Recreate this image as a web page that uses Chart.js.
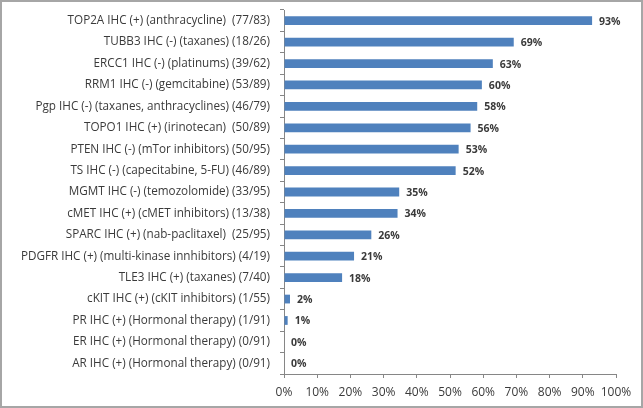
<!DOCTYPE html>
<html>
<head>
<meta charset="utf-8">
<script src="https://cdn.jsdelivr.net/npm/chart.js@4/dist/chart.umd.min.js"></script>
<style>
  html, body { margin: 0; padding: 0; background: #ffffff; }
  #wrap { width: 643px; height: 408px; position: relative; }
</style>
</head>
<body>
<div id="wrap"><canvas id="c" width="643" height="408"></canvas></div>
<script>
// ---- data ----
const categories = [
  "TOP2A IHC (+) (anthracycline)  (77/83)",
  "TUBB3 IHC (-) (taxanes) (18/26)",
  "ERCC1 IHC (-) (platinums) (39/62)",
  "RRM1 IHC (-) (gemcitabine) (53/89)",
  "Pgp IHC (-) (taxanes, anthracyclines) (46/79)",
  "TOPO1 IHC (+) (irinotecan)  (50/89)",
  "PTEN IHC (-) (mTor inhibitors) (50/95)",
  "TS IHC (-) (capecitabine, 5-FU) (46/89)",
  "MGMT IHC (-) (temozolomide) (33/95)",
  "cMET IHC (+) (cMET inhibitors) (13/38)",
  "SPARC IHC (+) (nab-paclitaxel)  (25/95)",
  "PDGFR IHC (+) (multi-kinase innhibitors) (4/19)",
  "TLE3 IHC (+) (taxanes) (7/40)",
  "cKIT IHC (+) (cKIT inhibitors) (1/55)",
  "PR IHC (+) (Hormonal therapy) (1/91)",
  "ER IHC (+) (Hormonal therapy) (0/91)",
  "AR IHC (+) (Hormonal therapy) (0/91)"
];
const percentValues = [92.8, 69.2, 62.9, 59.6, 58.2, 56.2, 52.6, 51.7, 34.7, 34.2, 26.3, 21.1, 17.5, 1.8, 1.1, 0, 0];
const valueLabels = ["93%", "69%", "63%", "60%", "58%", "56%", "53%", "52%", "35%", "34%", "26%", "21%", "18%", "2%", "1%", "0%", "0%"];
const xTickValues = [0, 10, 20, 30, 40, 50, 60, 70, 80, 90, 100];

// ---- style ----
const FONT = "'Open Sans', 'DejaVu Sans', sans-serif";
const TEXT = "#3a3a3a";
const AXIS = "#868686";
const BAR = "#4f81bd";

const valueLabelPlugin = {
  id: 'valueLabels',
  afterDatasetsDraw(chart) {
    const ctx = chart.ctx;
    const meta = chart.getDatasetMeta(0);
    ctx.save();
    ctx.font = "bold 10.5px " + FONT;
    ctx.fillStyle = TEXT;
    ctx.textAlign = 'left';
    ctx.textBaseline = 'middle';
    meta.data.forEach((bar, i) => {
      ctx.fillText(valueLabels[i], bar.x + 7, bar.y + 1);
    });
    ctx.restore();
  }
};

const borderPlugin = {
  id: 'outerBorder',
  afterDraw(chart) {
    const ctx = chart.ctx;
    ctx.save();
    ctx.strokeStyle = '#a6a6a6';
    ctx.lineWidth = 2;
    ctx.strokeRect(1, 1, chart.width - 2, chart.height - 2);
    ctx.restore();
  }
};

new Chart(document.getElementById('c'), {
  type: 'bar',
  data: {
    labels: categories,
    datasets: [{
      data: percentValues,
      backgroundColor: BAR,
      borderWidth: 0,
      barPercentage: 0.41,
      categoryPercentage: 1.0
    }]
  },
  options: {
    indexAxis: 'y',
    responsive: false,
    animation: false,
    devicePixelRatio: 1,
    layout: { padding: { left: 0, right: 27, top: 10, bottom: 0 } },
    plugins: { legend: { display: false }, tooltip: { enabled: false } },
    scales: {
      y: {
        type: 'category',
        grid: { display: true, drawOnChartArea: false, drawTicks: true, tickLength: 4, color: AXIS, offset: true },
        border: { display: true, color: AXIS, width: 1 },
        ticks: { color: TEXT, font: { family: FONT, size: 11.7 }, padding: 10, autoSkip: false },
        afterFit(scale) { scale.width = 284; scale.paddingTop = 0; scale.paddingBottom = 0; }
      },
      x: {
        type: 'linear',
        min: 0, max: 100,
        afterBuildTicks(scale) { scale.ticks = xTickValues.map(v => ({ value: v })); },
        grid: { display: true, drawOnChartArea: false, drawTicks: true, tickLength: 4, color: AXIS },
        border: { display: true, color: AXIS, width: 1 },
        ticks: { color: TEXT, font: { family: FONT, size: 12 }, padding: 7, maxRotation: 0, autoSkip: false, callback: v => v + '%' },
        afterFit(scale) { scale.height = 34; scale.paddingLeft = 0; scale.paddingRight = 0; }
      }
    }
  },
  plugins: [valueLabelPlugin, borderPlugin]
});
</script>
</body>
</html>
